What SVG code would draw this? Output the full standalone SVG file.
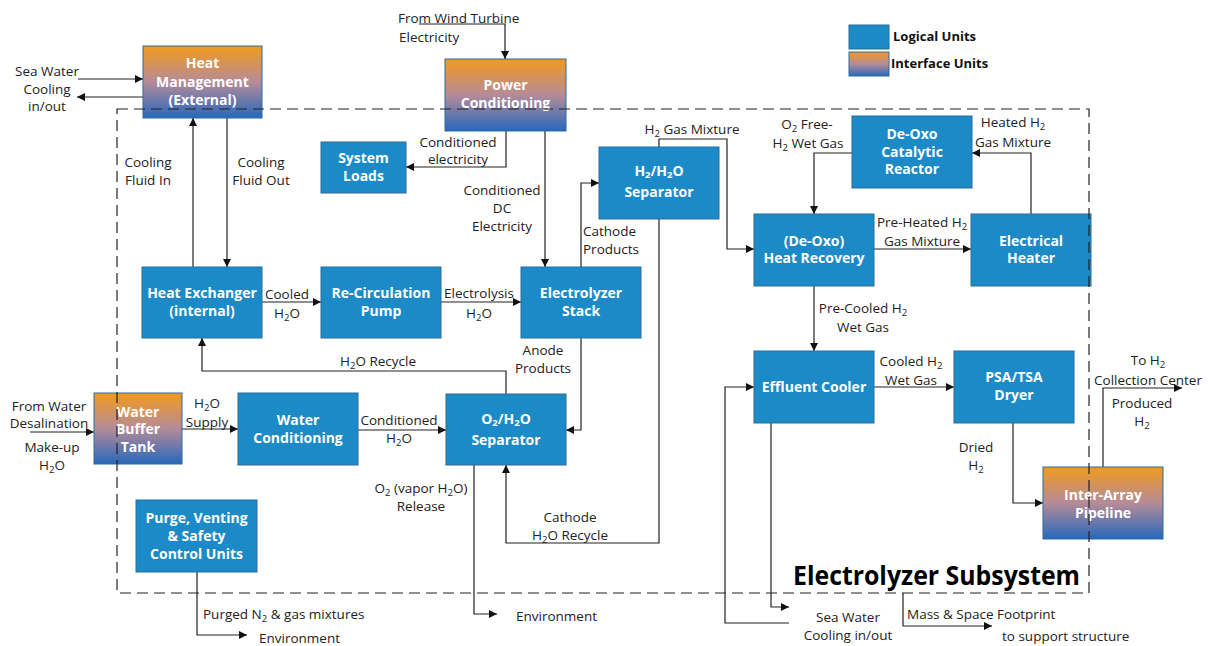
<svg xmlns="http://www.w3.org/2000/svg" width="1209" height="646" viewBox="0 0 1209 646">
  <style>
    .box { fill: #1b8ac7; stroke: #2a6d9c; stroke-width: 1; }
    .ibox { fill: url(#iface); stroke: #2a6d9c; stroke-width: 1; }
    .nt { font-family: "Open Sans", "Noto Sans", sans-serif; font-size: 14px; font-weight: bold; fill: #ffffff; text-anchor: middle; }
    .lb { font-family: "Open Sans", "Noto Sans", sans-serif; font-size: 13.5px; fill: #222222; }
    .m { text-anchor: middle; }
    .lg { font-family: "Open Sans", "Noto Sans", sans-serif; font-size: 13px; font-weight: bold; fill: #111111; }
    .s { font-size: 9.5px; baseline-shift: -3px; }
    .ns { font-size: 9.5px; baseline-shift: -2px; }
    .c { fill: none; stroke: #222222; stroke-width: 1.2; }
    .a { marker-end: url(#arr); }
    .frame { fill: none; stroke: #222222; stroke-width: 1.2; stroke-dasharray: 11 6; }
    .title { font-family: "Open Sans", "Noto Sans", sans-serif; font-size: 27px; font-weight: bold; fill: #000000; }
  </style>
  <defs>
    <linearGradient id="iface" x1="0" y1="0" x2="0" y2="1">
      <stop offset="0" stop-color="#f39a1c"/>
      <stop offset="0.5" stop-color="#b58b98"/>
      <stop offset="1" stop-color="#2867bd"/>
    </linearGradient>
    <marker id="arr" viewBox="0 0 10 10" refX="10" refY="5" markerWidth="9" markerHeight="8" markerUnits="userSpaceOnUse" orient="auto">
      <path d="M0,0 L10,5 L0,10 z" fill="#111111"/>
    </marker>
  </defs>

  <rect width="1209" height="646" fill="#ffffff"/>

  <!-- legend -->
  <g id="legend">
    <rect class="box" x="849" y="25" width="40" height="24"/>
    <rect class="ibox" x="849" y="52" width="40" height="24"/>
    <text class="lg" x="893" y="41">Logical Units</text>
    <text class="lg" x="891" y="68">Interface Units</text>
  </g>

  <!-- connectors -->
  <g id="connectors">
    <path class="c a" d="M78,79 H143"/>
    <path class="c a" d="M143,97 H77"/>
    <path class="c a" d="M193,267 V118"/>
    <path class="c a" d="M227,118 V267"/>
    <path class="c a" d="M419,24 H505 V59"/>
    <path class="c a" d="M506,131 V167 H406"/>
    <path class="c a" d="M545,131 V267"/>
    <path class="c a" d="M262,302 H321"/>
    <path class="c a" d="M441,302 H521"/>
    <path class="c a" d="M506,394 V371 H202 V338"/>
    <path class="c a" d="M581,338 V430 H566"/>
    <path class="c a" d="M581,267 V183 H599"/>
    <path class="c a" d="M659,147 V139 H727 V249 H754"/>
    <path class="c a" d="M659,219 V543 H506 V465"/>
    <path class="c a" d="M474,465 V614 H497"/>
    <path class="c a" d="M30,432 H94"/>
    <path class="c a" d="M182,429 H238"/>
    <path class="c a" d="M358,430 H446"/>
    <path class="c a" d="M197,572 V635 H247"/>
    <path class="c a" d="M852,153 H814 V214"/>
    <path class="c a" d="M874,249 H971"/>
    <path class="c a" d="M1031,214 V153 H972"/>
    <path class="c a" d="M814,286 V351"/>
    <path class="c a" d="M874,387 H954"/>
    <path class="c a" d="M789,623 H725 V387 H754"/>
    <path class="c a" d="M771,423 V607 H789"/>
    <path class="c a" d="M903,593 V626 H992"/>
    <path class="c a" d="M1013,423 V503 H1043"/>
    <path class="c a" d="M1103,467 V388 H1182"/>
  </g>

  <!-- connector labels -->
  <g id="labels">
    <text class="lb m" x="47" y="76">Sea Water</text>
    <text class="lb m" x="47" y="94">Cooling</text>
    <text class="lb m" x="47" y="111">in/out</text>
    <text class="lb" x="398" y="23">From Wind Turbine</text>
    <text class="lb" x="399" y="42">Electricity</text>
    <text class="lb m" x="148" y="167">Cooling</text>
    <text class="lb m" x="148" y="185">Fluid In</text>
    <text class="lb m" x="261" y="167">Cooling</text>
    <text class="lb m" x="261" y="185">Fluid Out</text>
    <text class="lb m" x="458" y="147">Conditioned</text>
    <text class="lb m" x="458" y="164">electricity</text>
    <text class="lb m" x="502" y="195">Conditioned</text>
    <text class="lb m" x="502" y="213">DC</text>
    <text class="lb m" x="502" y="231">Electricity</text>
    <text class="lb m" x="287" y="299">Cooled</text>
    <text class="lb m" x="287" y="318">H<tspan class="s">2</tspan>O</text>
    <text class="lb m" x="479" y="298">Electrolysis</text>
    <text class="lb m" x="479" y="318">H<tspan class="s">2</tspan>O</text>
    <text class="lb m" x="378" y="366">H<tspan class="s">2</tspan>O Recycle</text>
    <text class="lb m" x="543" y="355">Anode</text>
    <text class="lb m" x="543" y="373">Products</text>
    <text class="lb" x="583" y="236">Cathode</text>
    <text class="lb" x="583" y="254">Products</text>
    <text class="lb m" x="692" y="134">H<tspan class="s">2</tspan> Gas Mixture</text>
    <text class="lb m" x="570" y="522">Cathode</text>
    <text class="lb m" x="570" y="540">H<tspan class="s">2</tspan>O Recycle</text>
    <text class="lb m" x="421" y="493">O<tspan class="s">2</tspan> (vapor H<tspan class="s">2</tspan>O)</text>
    <text class="lb m" x="421" y="511">Release</text>
    <text class="lb" x="516" y="621">Environment</text>
    <text class="lb m" x="49" y="411">From Water</text>
    <text class="lb m" x="49" y="428">Desalination</text>
    <text class="lb m" x="52" y="452">Make-up</text>
    <text class="lb m" x="52" y="470">H<tspan class="s">2</tspan>O</text>
    <text class="lb m" x="207" y="408">H<tspan class="s">2</tspan>O</text>
    <text class="lb m" x="207" y="427">Supply</text>
    <text class="lb m" x="399" y="425">Conditioned</text>
    <text class="lb m" x="399" y="443">H<tspan class="s">2</tspan>O</text>
    <text class="lb" x="203" y="619">Purged N<tspan class="s">2</tspan> &amp; gas mixtures</text>
    <text class="lb" x="259" y="643">Environment</text>
    <text class="lb m" x="807" y="129">O<tspan class="s">2</tspan> Free-</text>
    <text class="lb m" x="808" y="148">H<tspan class="s">2</tspan> Wet Gas</text>
    <text class="lb m" x="922" y="227">Pre-Heated H<tspan class="s">2</tspan></text>
    <text class="lb m" x="922" y="246">Gas Mixture</text>
    <text class="lb m" x="1013" y="127">Heated H<tspan class="s">2</tspan></text>
    <text class="lb m" x="1013" y="147">Gas Mixture</text>
    <text class="lb m" x="863" y="313">Pre-Cooled H<tspan class="s">2</tspan></text>
    <text class="lb m" x="863" y="332">Wet Gas</text>
    <text class="lb m" x="911" y="366">Cooled H<tspan class="s">2</tspan></text>
    <text class="lb m" x="911" y="385">Wet Gas</text>
    <text class="lb m" x="848" y="622">Sea Water</text>
    <text class="lb m" x="848" y="640">Cooling in/out</text>
    <text class="lb" x="907" y="619">Mass &amp; Space Footprint</text>
    <text class="lb" x="1002" y="641">to support structure</text>
    <text class="lb m" x="976" y="452">Dried</text>
    <text class="lb m" x="976" y="470">H<tspan class="s">2</tspan></text>
    <text class="lb m" x="1148" y="365">To H<tspan class="s">2</tspan></text>
    <text class="lb m" x="1148" y="385">Collection Center</text>
    <text class="lb m" x="1142" y="408">Produced</text>
    <text class="lb m" x="1142" y="426">H<tspan class="s">2</tspan></text>
  </g>

  <!-- nodes -->
  <g id="heat-management">
    <rect class="ibox" x="143" y="46" width="119" height="72"/>
    <text class="nt" x="202.5" y="68">Heat</text>
    <text class="nt" x="202.5" y="86.5">Management</text>
    <text class="nt" x="202.5" y="105">(External)</text>
  </g>
  <g id="power-conditioning">
    <rect class="ibox" x="445" y="59" width="121" height="72"/>
    <text class="nt" x="505.5" y="90">Power</text>
    <text class="nt" x="505.5" y="108">Conditioning</text>
  </g>
  <g id="system-loads">
    <rect class="box" x="321" y="142" width="85" height="51"/>
    <text class="nt" x="363.5" y="163">System</text>
    <text class="nt" x="363.5" y="181">Loads</text>
  </g>
  <g id="heat-exchanger">
    <rect class="box" x="142" y="267" width="120" height="71"/>
    <text class="nt" x="202" y="298">Heat Exchanger</text>
    <text class="nt" x="202" y="316">(internal)</text>
  </g>
  <g id="recirculation-pump">
    <rect class="box" x="321" y="267" width="120" height="71"/>
    <text class="nt" x="381" y="298">Re-Circulation</text>
    <text class="nt" x="381" y="316">Pump</text>
  </g>
  <g id="electrolyzer-stack">
    <rect class="box" x="521" y="267" width="120" height="71"/>
    <text class="nt" x="581" y="298">Electrolyzer</text>
    <text class="nt" x="581" y="316">Stack</text>
  </g>
  <g id="h2-separator">
    <rect class="box" x="599" y="147" width="120" height="72"/>
    <text class="nt" x="659" y="176">H<tspan class="ns">2</tspan>/H<tspan class="ns">2</tspan>O</text>
    <text class="nt" x="659" y="197">Separator</text>
  </g>
  <g id="deoxo-reactor">
    <rect class="box" x="852" y="116" width="120" height="72"/>
    <text class="nt" x="912" y="139">De-Oxo</text>
    <text class="nt" x="912" y="157">Catalytic</text>
    <text class="nt" x="912" y="174">Reactor</text>
  </g>
  <g id="heat-recovery">
    <rect class="box" x="754" y="214" width="120" height="72"/>
    <text class="nt" x="814" y="246">(De-Oxo)</text>
    <text class="nt" x="814" y="263">Heat Recovery</text>
  </g>
  <g id="electrical-heater">
    <rect class="box" x="971" y="214" width="120" height="72"/>
    <text class="nt" x="1031" y="246">Electrical</text>
    <text class="nt" x="1031" y="263">Heater</text>
  </g>
  <g id="effluent-cooler">
    <rect class="box" x="754" y="351" width="120" height="72"/>
    <text class="nt" x="814" y="392">Effluent Cooler</text>
  </g>
  <g id="psa-dryer">
    <rect class="box" x="954" y="351" width="120" height="72"/>
    <text class="nt" x="1014" y="382">PSA/TSA</text>
    <text class="nt" x="1014" y="400">Dryer</text>
  </g>
  <g id="inter-array-pipeline">
    <rect class="ibox" x="1043" y="467" width="120" height="72"/>
    <text class="nt" x="1103" y="500">Inter-Array</text>
    <text class="nt" x="1103" y="518">Pipeline</text>
  </g>
  <g id="water-buffer-tank">
    <rect class="ibox" x="94" y="393" width="88" height="71"/>
    <text class="nt" x="138" y="417">Water</text>
    <text class="nt" x="138" y="434">Buffer</text>
    <text class="nt" x="138" y="452">Tank</text>
  </g>
  <g id="water-conditioning">
    <rect class="box" x="238" y="393" width="120" height="72"/>
    <text class="nt" x="298" y="425">Water</text>
    <text class="nt" x="298" y="443">Conditioning</text>
  </g>
  <g id="o2-separator">
    <rect class="box" x="446" y="394" width="120" height="71"/>
    <text class="nt" x="506" y="424">O<tspan class="ns">2</tspan>/H<tspan class="ns">2</tspan>O</text>
    <text class="nt" x="506" y="445">Separator</text>
  </g>
  <g id="purge-venting">
    <rect class="box" x="136" y="500" width="121" height="72"/>
    <text class="nt" x="196.5" y="523">Purge, Venting</text>
    <text class="nt" x="196.5" y="541">&amp; Safety</text>
    <text class="nt" x="196.5" y="559">Control Units</text>
  </g>

  <!-- subsystem boundary -->
  <g id="electrolyzer-subsystem">
    <rect class="frame" x="117" y="109" width="972" height="484"/>
    <text class="title" x="793" y="585" textLength="287" lengthAdjust="spacingAndGlyphs">Electrolyzer Subsystem</text>
  </g>
</svg>
